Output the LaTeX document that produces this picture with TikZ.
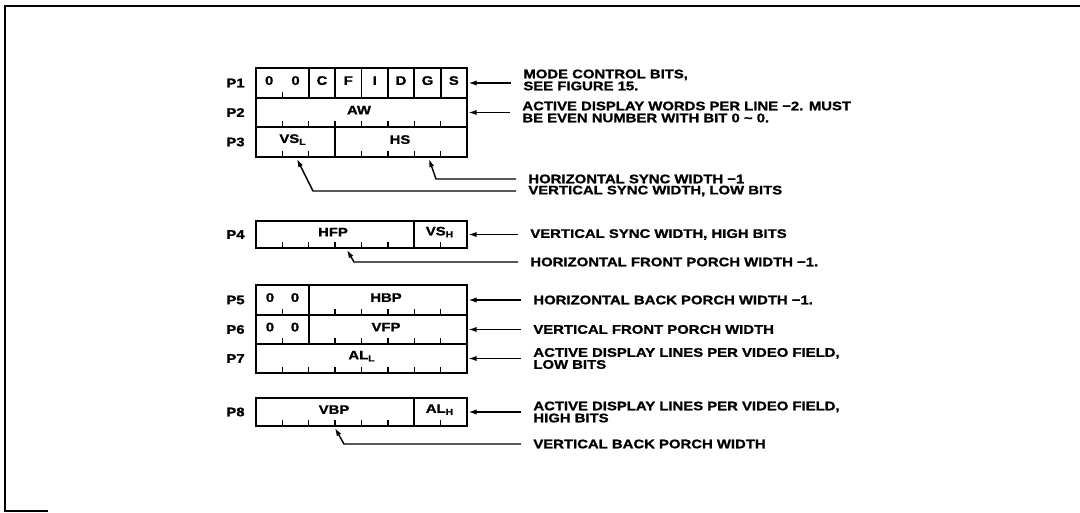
\documentclass[tikz,border=0pt]{standalone}
\usepackage{fontspec}
\setmainfont{Liberation Sans}[FakeStretch=1.2,BoldFeatures={FakeBold=1.2}]
\usetikzlibrary{arrows.meta}

\begin{document}
\begin{tikzpicture}[x=0.5pt,y=-0.5pt,
  every node/.style={font=\bfseries\fontsize{6.2}{6}\selectfont, inner sep=0pt},
  box/.style={line width=1.3pt},
  sep/.style={line width=0.9pt},
  tick/.style={line width=0.7pt},
  lead/.style={line width=0.7pt,-{Latex[length=4pt,width=2.6pt]}},
  note/.style={anchor=west, align=left, inner xsep=6pt},
  reg/.style={anchor=east},
  fld/.style={anchor=center, yshift=1.2pt}]

\useasboundingbox (0,0) rectangle (1080,513);
\draw[line width=1.2pt] (1080,6) -- (5,6) -- (5,511) -- (48,511);

\begin{scope}
\draw[box] (256,68) rectangle (467,157);
\draw[sep] (256,98) -- (467,98) (256,127) -- (467,127);
\foreach \k in {2,...,7} \draw[sep] ({256+\k*26.375},68) -- ({256+\k*26.375},98);
\draw[tick] (282.4,98) -- ++(0,-6);
\foreach \k in {1,...,7} \draw[tick] ({256+\k*26.375},127) -- ++(0,-6);
\draw[sep] (335.1,127) -- (335.1,157);
\foreach \k in {1,2,4,5,6,7} \draw[tick] ({256+\k*26.375},157) -- ++(0,-6);

\draw[box] (256,221) rectangle (467,248);
\draw[sep] (414.25,221) -- (414.25,248);
\foreach \k in {1,...,5,7} \draw[tick] ({256+\k*26.375},248) -- ++(0,-6);

\draw[box] (256,285) rectangle (467,373);
\draw[sep] (256,315) -- (467,315) (256,344) -- (467,344);
\draw[sep] (308.75,285) -- (308.75,344);
\foreach \k in {1,3,4,5,6,7} \draw[tick] ({256+\k*26.375},315) -- ++(0,-6);
\foreach \k in {1,3,4,5,6,7} \draw[tick] ({256+\k*26.375},344) -- ++(0,-6);
\foreach \k in {1,...,7} \draw[tick] ({256+\k*26.375},373) -- ++(0,-6);

\draw[box] (256,398) rectangle (467,426);
\draw[sep] (414.25,398) -- (414.25,426);
\foreach \k in {1,...,5,7} \draw[tick] ({256+\k*26.375},426) -- ++(0,-6);
\end{scope}

\node[reg] (p1) at (245,83) {P1};
\node[reg] (p2) at (245,112.5) {P2};
\node[reg] (p3) at (245,142) {P3};
\node[reg] (p4) at (245,234.5) {P4};
\node[reg] (p5) at (245,300) {P5};
\node[reg] (p6) at (245,329.5) {P6};
\node[reg] (p7) at (245,358.5) {P7};
\node[reg] (p8) at (245,412) {P8};

\foreach \t [count=\i] in {0,0,C,F,I,D,G,S}
  \node[fld] (bit\i) at ({256+(\i-0.5)*26.375},83) {\t};
\node[fld] (aw) at (359,112.5) {AW};
\node[fld] (vsl) at (293,142) {VS\textsubscript{L}};
\node[fld] (hs) at (400,142) {HS};
\node[fld] (hfp) at (333,234.5) {HFP};
\node[fld] (vsh) at (440,234.5) {VS\textsubscript{H}};
\node[fld] (z5a) at (270,300) {0};
\node[fld] (z5b) at (295,300) {0};
\node[fld] (hbp) at (386,300) {HBP};
\node[fld] (z6a) at (270,329.5) {0};
\node[fld] (z6b) at (295,329.5) {0};
\node[fld] (vfp) at (386,329.5) {VFP};
\node[fld] (all) at (362,358.5) {AL\textsubscript{L}};
\node[fld] (vbp) at (334,412) {VBP};
\node[fld] (alh) at (440,412) {AL\textsubscript{H}};

\coordinate (e1) at (468.5,83);
\coordinate (e2) at (468.5,112.5);
\coordinate (e4) at (468.5,234.5);
\coordinate (e5) at (468.5,300);
\coordinate (e6) at (468.5,329.5);
\coordinate (e7) at (468.5,358.5);
\coordinate (e8) at (468.5,412);
\coordinate (hstip) at (429,159);
\coordinate (vsltip) at (297,159);
\coordinate (hfptip) at (347,250);
\coordinate (vbptip) at (335,428);

\node[note] (nmode) at (511,80) {MODE CONTROL BITS,\\SEE FIGURE 15.};
\node[note] (naw) at (510,112) {ACTIVE DISPLAY WORDS PER LINE −2. MUST\\BE EVEN NUMBER WITH BIT 0 \textasciitilde\ 0.};
\node[note] (nhs) at (516,179) {HORIZONTAL SYNC WIDTH −1};
\node[note] (nvsl) at (516,191) {VERTICAL SYNC WIDTH, LOW BITS};
\node[note] (nvsh) at (518,234.5) {VERTICAL SYNC WIDTH, HIGH BITS};
\node[note] (nhfp) at (518,262) {HORIZONTAL FRONT PORCH WIDTH −1.};
\node[note] (nhbp) at (521,300) {HORIZONTAL BACK PORCH WIDTH −1.};
\node[note] (nvfp) at (521,329.5) {VERTICAL FRONT PORCH WIDTH};
\node[note] (nall) at (521,358.5) {ACTIVE DISPLAY LINES PER VIDEO FIELD,\\LOW BITS};
\node[note] (nalh) at (521,412) {ACTIVE DISPLAY LINES PER VIDEO FIELD,\\HIGH BITS};
\node[note] (nvbp) at (521,444) {VERTICAL BACK PORCH WIDTH};

\begin{scope}[lead]
\draw (nmode.west |- e1) -- (e1);
\draw (naw.west |- e2) -- (e2);
\draw (nvsh.west |- e4) -- (e4);
\draw (nhbp.west |- e5) -- (e5);
\draw (nvfp.west |- e6) -- (e6);
\draw (nall.west |- e7) -- (e7);
\draw (nalh.west |- e8) -- (e8);

\draw (nhs.west) -- (436,179) -- (hstip);
\draw (nvsl.west) -- (313,191) -- (vsltip);
\draw (nhfp.west) -- (354,262) -- (hfptip);
\draw (nvbp.west) -- (344,444) -- (vbptip);
\end{scope}

\end{tikzpicture}
\end{document}
